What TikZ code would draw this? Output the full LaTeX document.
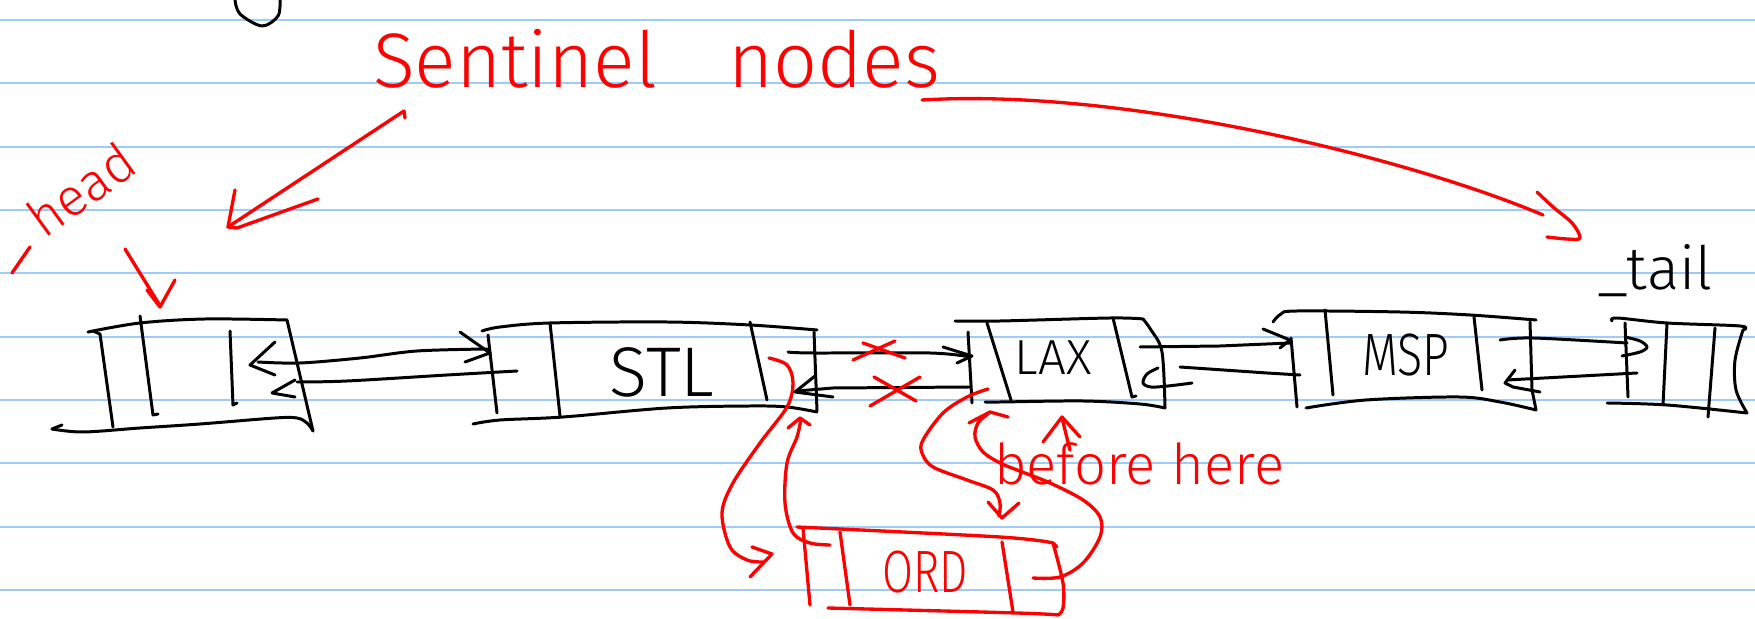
\documentclass[tikz,border=0pt]{standalone}
\usepackage{fontspec}
\setmainfont{Fira Sans}[UprightFont=* Light]
\usepackage{graphicx}
\definecolor{ruleblue}{RGB}{158,203,250}
\definecolor{pen}{RGB}{255,0,0}
\tikzset{
  ink/.style={draw=black, line width=0.85pt, line cap=round, line join=round},
  redink/.style={draw=pen, line width=0.95pt, line cap=round, line join=round},
  rule/.style={draw=ruleblue, line width=0.5pt},
  word/.style={inner sep=0pt, outer sep=0pt},
  sm/.style={smooth, tension=0.55},
}
\begin{document}
\begin{tikzpicture}[x=0.01cm, y=-0.01cm]
\useasboundingbox (0,0) rectangle (1755,619);

% ruled notebook paper
\foreach \k in {0,...,9}
  \draw[rule] (0,{20+63.33*\k}) -- (1755,{20+63.33*\k});

% end of a letter from the line above
\draw[ink] plot[sm] coordinates {(235,0) (240,14) (262,26) (278,16) (280,0)};

% ---------------- list cells (black) ----------------
% head sentinel
\draw[ink] plot[sm] coordinates {(88,332) (140,323) (205,319) (287,320)};
\draw[ink] (93,331) -- (100,334) -- (113,427);
\draw[ink] (140,316) -- (153,415) -- (158,414);
\draw[ink] (230,331) -- (233,405) -- (237,403);
\draw[ink] (287,320) -- (313,431);
\draw[ink] (62,425) -- (52,429);
\draw[ink] plot[sm] coordinates {(52,429) (83,432) (140,428) (200,424) (275,418) (297,418) (307,423) (313,431)};

% STL
\draw[ink] plot[sm] coordinates {(482,331) (500,327) (550,323) (667,322) (750,325) (817,330)};
\draw[ink] (488,335) -- (497,413);
\draw[ink] plot[sm] coordinates {(473,424) (500,420) (563,417) (667,408) (750,406) (787,407) (817,412)};
\draw[ink] (814,332) -- (817,411);
\draw[ink] (550,323) -- (560,416);
\draw[ink] (750,322) -- (767,400);
\node[word, font=\fontsize{20}{24}\selectfont, anchor=base] (stl) at (662,397) {STL};

% LAX
\draw[ink] plot[sm] coordinates {(955,321) (1000,321) (1110,318) (1143,319)};
\draw[ink] (968,332) -- (972,403);
\draw[ink] (987,323) -- (1011,400);
\draw[ink] plot[sm] coordinates {(985,402) (1000,402) (1083,401) (1140,404) (1165,408)};
\draw[ink] (1113,318) -- (1132,397) -- (1136,396);
\draw[ink] plot[sm] coordinates {(1143,319) (1151,330) (1162,352) (1165,408)};
\node[word, font=\fontsize{14}{17}\selectfont, anchor=base] (lax) at (1053,375) {LAX};

% MSP
\draw[ink] plot[sm] coordinates {(1273,322) (1281,314) (1297,311) (1400,312) (1470,315) (1536,320)};
\draw[ink] (1291,338) -- (1297,407);
\draw[ink] (1325,310) -- (1333,395);
\draw[ink] (1474,317) -- (1482,390);
\draw[ink] (1530,322) -- (1532,390) -- (1536,410);
\draw[ink] plot[sm] coordinates {(1306,408) (1366,400) (1459,397) (1500,402) (1536,410)};
\node[word, font=\fontsize{17}{20}\selectfont, anchor=base] (msp) at (1406,376) {\scalebox{0.78}[1]{MSP}};

% tail sentinel
\draw[ink] plot[sm] coordinates {(1612,321) (1617,318) (1667,323) (1740,326) (1743,330)};
\draw[ink] (1625,323) -- (1628,397);
\draw[ink] (1667,323) -- (1663,405);
\draw[ink] (1715,328) -- (1708,417);
\draw[ink] plot[sm] coordinates {(1743,330) (1735,360) (1736,390) (1747,413)};
\draw[ink] plot[sm] coordinates {(1607,403) (1667,405) (1747,413)};
\node[word, font=\fontsize{17}{20}\selectfont, anchor=base west] (tail) at (1597,290) {\_tail};

% ---------------- next / prev pointers (black) ----------------
\coordinate (hdA) at (258,362);
\coordinate (stlIn) at (487,349);
\draw[ink] plot[sm] coordinates {(hdA) (300,363) (360,358) (417,351) (stlIn)};
\draw[ink] (275,342) -- (250,365) -- (275,375);
\draw[ink] (460,332) -- (467,337) -- (490,353) -- (465,362);

\coordinate (stlB) at (517,371);
\coordinate (hdB) at (297,382);
\draw[ink] plot[sm] coordinates {(stlB) (447,375) (347,381) (hdB)};
\draw[ink] (295,380) -- (272,393) -- (295,397);

\coordinate (stlC) at (788,352);
\coordinate (laxIn) at (970,357);
\draw[ink] plot[sm] coordinates {(stlC) (813,353) (930,353) (laxIn)};
\draw[ink] (943,347) -- (972,356) -- (957,363);

\coordinate (laxB) at (970,387);
\coordinate (stlD) at (797,391);
\draw[ink] (laxB) -- (833,388) -- (stlD);
\draw[ink] (815,376) -- (795,392) -- (833,397);

\coordinate (laxC) at (1140,347);
\coordinate (mspIn) at (1290,343);
\draw[ink] (laxC) -- (1220,346) -- (mspIn);
\draw[ink] (1263,329) -- (1290,340) -- (1280,348);

\coordinate (mspB) at (1300,375);
\coordinate (laxD) at (1180,367);
\draw[ink] (mspB) -- (1267,373) -- (laxD);
\draw[ink] plot[sm] coordinates {(1158,368) (1147,374) (1143,383) (1151,387) (1168,386) (1192,383)};

\coordinate (mspC) at (1500,340);
\coordinate (tailIn) at (1627,343);
\draw[ink] plot[sm] coordinates {(mspC) (1533,338) (tailIn)};
\draw[ink] plot[sm] coordinates {(1625,337) (1640,341) (1647,347) (1640,352) (1622,356)};

\coordinate (tailB) at (1637,373);
\coordinate (mspD) at (1507,380);
\draw[ink] (tailB) -- (mspD);
\draw[ink] (1515,370) -- (1505,383) -- (1513,387) -- (1540,392);

% ---------------- red annotations ----------------
\node[word, text=pen, font=\fontsize{22}{26}\selectfont, anchor=base west] (sentinel) at (373,88) {Sentinel \hspace{14pt}nodes};
\node[word, text=pen, font=\fontsize{15}{18}\selectfont, anchor=base west, rotate=36] (head) at (45,240) {head};
\node[word, text=pen, font=\fontsize{16}{19}\selectfont, anchor=base west] (before) at (994,485) {before here};

\draw[redink] (12,273) -- (30,247);

% head label arrow
\coordinate (headTip) at (159,304);
\draw[redink] (125,249) -- (headTip);
\draw[redink] (147,290) -- (160,307) -- (175,280);

% sentinel arrow to the head cell
\coordinate (sentA) at (404,111);
\coordinate (sentTip) at (228,227);
\draw[redink] (405,118) -- (sentA) -- (sentTip);
\draw[redink] (235,190) -- (sentTip) -- (237,228) -- (318,199);

% sentinel arrow to the tail cell
\coordinate (sentB) at (922,100);
\coordinate (tailEnd) at (1543,215);
\draw[redink] (sentB) .. controls (1120,88) and (1400,155) .. (tailEnd);
\draw[redink] plot[sm] coordinates {(1537,192) (1553,207) (1572,223) (1580,238) (1567,239) (1547,237)};

% crossed-out links between STL and LAX
\draw[redink] (853,360) -- (895,341);
\draw[redink] (863,343) -- (905,358);
\draw[redink] (870,406) -- (920,377);
\draw[redink] (874,377) -- (916,401);

% new cell ORD
\draw[redink] plot[sm] coordinates {(797,527) (1000,537) (1053,543)};
\draw[redink] (1053,543) -- (1057,547);
\draw[redink] (803,528) -- (810,605);
\draw[redink] (840,532) -- (850,605);
\draw[redink] (1002,542) -- (1013,612);
\draw[redink] plot[sm] coordinates {(1053,543) (1063,583) (1063,608) (1058,615)};
\draw[redink] plot[sm] coordinates {(828,608) (1017,613) (1058,615)};
\node[word, text=pen, font=\fontsize{17}{20}\selectfont, anchor=base] (ord) at (925,593) {\scalebox{0.75}[1]{ORD}};

% STL next -> ORD
\coordinate (stlR) at (769,358);
\coordinate (ordL) at (763,562);
\draw[redink] plot[sm] coordinates {(stlR) (787,365) (793,383) (787,407) (760,443) (733,483) (722,513) (730,547) (747,560) (ordL)};
\draw[redink] (752,547) -- (772,554) -- (750,577);

% ORD prev -> STL
\coordinate (ordP) at (830,545);
\coordinate (stlP) at (801,419);
\draw[redink] plot[sm] coordinates {(ordP) (810,543) (793,533) (785,503) (787,463) (797,437) (stlP)};
\draw[redink] (788,428) -- (800,418) -- (810,425);

% LAX prev -> ORD
\coordinate (laxP) at (988,389);
\coordinate (ordT) at (999,516);
\draw[redink] plot[sm] coordinates {(laxP) (967,397) (943,413) (923,440) (922,453) (933,467) (967,480) (993,490) (1000,503) (ordT)};
\draw[redink] (988,502) -- (1002,518) -- (1019,503);

% ORD next -> LAX
\coordinate (ordN) at (1033,578);
\coordinate (laxQ) at (989,413);
\draw[redink] plot[sm] coordinates {(ordN) (1060,577) (1083,563) (1100,537) (1100,517) (1083,500) (1050,483) (1017,470) (1000,463) (983,452) (975,437) (978,423) (laxQ)};
\draw[redink] (969,423) -- (990,412) -- (1008,417);

% "before here" pointer
\coordinate (beforeTop) at (1062,418);
\draw[redink] (1070,450) -- (beforeTop);
\draw[redink] (1043,442) -- (1062,417) -- (1080,437);
\end{tikzpicture}
\end{document}
